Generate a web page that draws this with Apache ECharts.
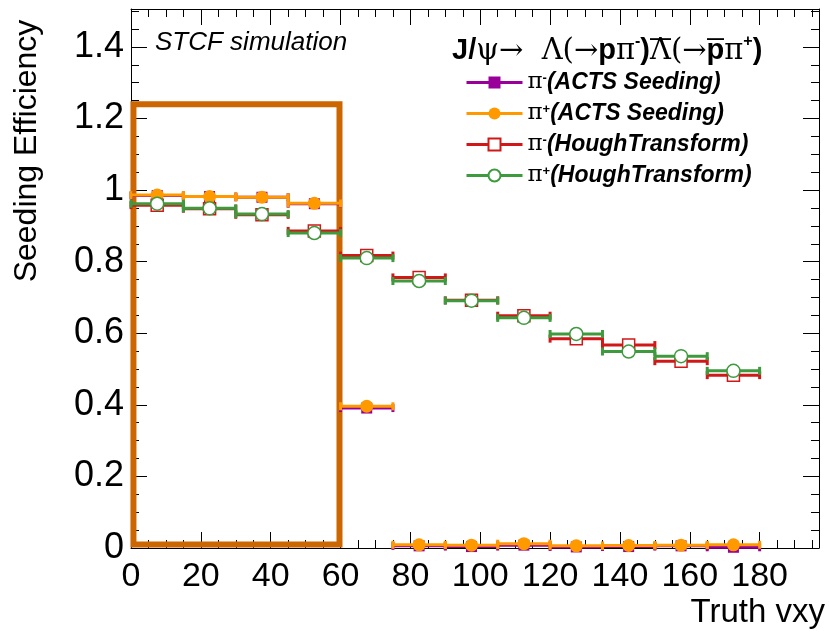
<!DOCTYPE html>
<html>
<head>
<meta charset="utf-8">
<script src="https://cdn.jsdelivr.net/npm/echarts@6/dist/echarts.min.js"></script>
<style>
  html, body { margin: 0; padding: 0; background: #ffffff; }
  #chart { width: 829px; height: 633px; }
</style>
</head>
<body>
<div id="chart"></div>
<script>
// Truth vxy binning (bin edges and centres)
const binEdges = [0, 15, 30, 45, 60, 75, 90, 105, 120, 135, 150, 165, 180];
const binCenters = [7.5, 22.5, 37.5, 52.5, 67.5, 82.5, 97.5, 112.5, 127.5, 142.5, 157.5, 172.5];

// Seeding efficiency per bin
const piMinusActs  = [0.985, 0.982, 0.980, 0.962, 0.391, 0.006, 0.004, 0.008, 0.003, 0.004, 0.006, 0.002];
const piPlusActs   = [0.986, 0.982, 0.980, 0.963, 0.396, 0.009, 0.008, 0.012, 0.006, 0.007, 0.008, 0.009];
const piMinusHough = [0.958, 0.948, 0.931, 0.886, 0.817, 0.756, 0.692, 0.649, 0.585, 0.567, 0.522, 0.483];
const piPlusHough  = [0.962, 0.949, 0.933, 0.880, 0.810, 0.746, 0.691, 0.643, 0.598, 0.549, 0.536, 0.495];

// Axis tick labels
const xTickValues = [0, 20, 40, 60, 80, 100, 120, 140, 160, 180];
const yTickValues = [0, 0.2, 0.4, 0.6, 0.8, 1, 1.2, 1.4];

// Highlighted region (vxy range, efficiency range)
const boxX = [0.7, 59.7];
const boxY = [0.01, 1.24];

const seriesDefs = [
  { name: 'piMinusActs',  values: piMinusActs,  color: '#990099', symbol: 'rect',   size: 11, fill: '#990099', label: ['-', '(ACTS Seeding)'] },
  { name: 'piPlusActs',   values: piPlusActs,   color: '#ff9900', symbol: 'circle', size: 13, fill: '#ff9900', label: ['+', '(ACTS Seeding)'] },
  { name: 'piMinusHough', values: piMinusHough, color: '#d01818', symbol: 'rect',   size: 12, fill: '#ffffff', label: ['-', '(HoughTransform)'] },
  { name: 'piPlusHough',  values: piPlusHough,  color: '#3d9a3d', symbol: 'circle', size: 13, fill: '#ffffff', label: ['+', '(HoughTransform)'] }
];

const FONT = 'Liberation Sans, Arial, sans-serif';
const SERIF = 'DejaVu Serif, Liberation Serif, serif';

// Small bitmap used as a rich-text background to put a bar over a glyph
function overlineImage() {
  const c = document.createElement('canvas');
  c.width = 10; c.height = 34;
  const g = c.getContext('2d');
  g.fillStyle = '#000';
  g.fillRect(0, 2, 10, 2);
  return c;
}
const overline = overlineImage();

function errorBars(def, z) {
  return {
    type: 'custom',
    name: def.name + '-err',
    z: z,
    silent: true,
    animation: false,
    data: def.values.map((v, i) => [binEdges[i], binEdges[i + 1], v]),
    encode: { x: [0, 1], y: 2 },
    renderItem: function (params, api) {
      const lo = api.coord([api.value(0), api.value(2)]);
      const hi = api.coord([api.value(1), api.value(2)]);
      const cap = 4;
      const st = { stroke: def.color, lineWidth: 3 };
      return {
        type: 'group',
        children: [
          { type: 'line', shape: { x1: lo[0], y1: lo[1], x2: hi[0], y2: hi[1] }, style: st },
          { type: 'line', shape: { x1: lo[0], y1: lo[1] - cap, x2: lo[0], y2: lo[1] + cap }, style: st },
          { type: 'line', shape: { x1: hi[0], y1: hi[1] - cap, x2: hi[0], y2: hi[1] + cap }, style: st }
        ]
      };
    }
  };
}

function markers(def, z) {
  return {
    type: 'line',
    name: def.name,
    z: z,
    animation: false,
    symbol: def.symbol,
    symbolSize: def.size,
    showAllSymbol: true,
    lineStyle: { color: def.color, width: 3, opacity: 0 },
    itemStyle: { color: def.fill, borderColor: def.color, borderWidth: def.fill === '#ffffff' ? 1.5 : 0 },
    data: binCenters.map((c, i) => [c, def.values[i]])
  };
}

const series = [];
seriesDefs.forEach((def, i) => {
  series.push(errorBars(def, 2 + i * 2));
  series.push(markers(def, 3 + i * 2));
});

// Highlight frame drawn on top of everything
series.push({
  type: 'line',
  name: 'highlight',
  z: 20,
  data: [],
  markArea: {
    silent: true,
    itemStyle: { color: 'rgba(0,0,0,0)', borderColor: '#cc6600', borderWidth: 6 },
    data: [[{ coord: [boxX[0], boxY[1]] }, { coord: [boxX[1], boxY[0]] }]]
  }
});

const axisBase = {
  type: 'value',
  axisLine: { show: true, onZero: false, lineStyle: { color: '#000', width: 1 } },
  axisTick: { show: true, inside: true, length: 16, lineStyle: { color: '#000', width: 1 } },
  minorTick: { show: true, splitNumber: 4, length: 8, lineStyle: { color: '#000', width: 1 } },
  splitLine: { show: false }
};

const xMain = Object.assign({}, axisBase, {
  min: 0, max: 197, interval: 20, position: 'bottom',
  axisLabel: {
    show: true, color: '#000', fontFamily: 'Liberation Sans Narrow, ' + FONT, fontSize: 34, margin: 12,
    showMaxLabel: false,
    formatter: v => (xTickValues.indexOf(v) >= 0 ? String(v) : '')
  }
});
const xTop = Object.assign({}, axisBase, {
  min: 0, max: 197, interval: 20, position: 'top', axisLabel: { show: false }
});
const yMain = Object.assign({}, axisBase, {
  min: 0, max: 1.506, interval: 0.2, position: 'left',
  axisLabel: {
    show: true, color: '#000', fontFamily: FONT, fontSize: 36, margin: 7,
    showMaxLabel: false,
    formatter: v => {
      const hit = yTickValues.find(t => Math.abs(t - v) < 1e-6);
      return hit === undefined ? '' : String(hit);
    }
  }
});
const yRight = Object.assign({}, axisBase, {
  min: 0, max: 1.506, interval: 0.2, position: 'right', axisLabel: { show: false }
});

const legendRich = {
  pi: { fontFamily: SERIF, fontSize: 23, fontWeight: 'normal', fontStyle: 'normal', color: '#000' },
  sup: { fontFamily: FONT, fontSize: 13, fontWeight: 'bold', color: '#000', verticalAlign: 'top', padding: [0, 0, 10, 0] },
  t: { fontFamily: FONT, fontSize: 23, fontWeight: 'bold', fontStyle: 'italic', color: '#000' }
};

const TS = 29;
const titleRich = {
  b: { fontFamily: FONT, fontSize: TS, fontWeight: 'bold', color: '#000', lineHeight: 34 },
  g: { fontFamily: SERIF, fontSize: TS, fontWeight: 'normal', color: '#000', lineHeight: 34 },
  gb: { fontFamily: FONT, fontSize: TS, fontWeight: 'bold', color: '#000', lineHeight: 34 },
  og: { fontFamily: SERIF, fontSize: TS, fontWeight: 'normal', color: '#000', lineHeight: 34, backgroundColor: { image: overline } },
  ob: { fontFamily: FONT, fontSize: TS, fontWeight: 'bold', color: '#000', lineHeight: 34, backgroundColor: { image: overline } },
  sup: { fontFamily: FONT, fontSize: 16, fontWeight: 'bold', color: '#000', verticalAlign: 'top', padding: [0, 0, 15, 0] }
};

const option = {
  backgroundColor: '#ffffff',
  animation: false,
  grid: { left: 131, right: 10, top: 9, bottom: 85, containLabel: false },
  xAxis: [xMain, xTop],
  yAxis: [yMain, yRight],
  title: [
    {
      text: 'STCF simulation', left: 150, top: 25,
      textStyle: { fontFamily: FONT, fontSize: 26, fontStyle: 'italic', fontWeight: 'normal', color: '#000' }
    },
    {
      text: '{b|J/}{g|\u03C8\u2192  \u039B(\u2192}{b|p}{g|\u03C0}{sup|-}{gb|)}{og|\u039B}{g|(\u2192}{ob|p}{g|\u03C0}{sup|+}{gb|)}',
      left: 447, top: 29,
      textStyle: { rich: titleRich }
    }
  ],
  legend: {
    left: 460, top: 66,
    orient: 'vertical',
    itemWidth: 56, itemHeight: 15, itemGap: 8,
    selectedMode: false,
    data: seriesDefs.map(d => ({
      name: d.name,
      lineStyle: { color: d.color, width: 3, opacity: 1 }
    })),
    formatter: name => {
      const d = seriesDefs.find(s => s.name === name);
      return '{pi|\u03C0}{sup|' + d.label[0] + '}{t|' + d.label[1] + '}';
    },
    textStyle: { rich: legendRich, lineHeight: 22 }
  },
  graphic: [
    {
      type: 'text', x: 27, y: 151, rotation: Math.PI / 2,
      style: { text: 'Seeding Efficiency', font: '32px Liberation Sans', fill: '#000', align: 'center', verticalAlign: 'middle' }
    },
    {
      type: 'text', right: 4, top: 596,
      style: { text: 'Truth vxy', font: '33px Liberation Sans', fill: '#000' }
    }
  ],
  series: series
};

const chart = echarts.init(document.getElementById('chart'), null, { renderer: 'canvas' });
chart.setOption(option);
</script>
</body>
</html>
